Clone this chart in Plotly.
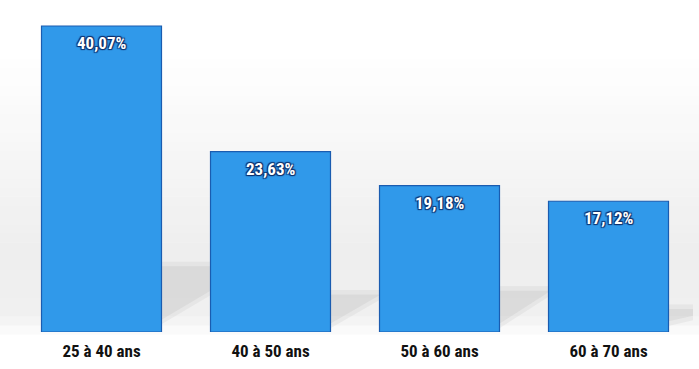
import plotly.graph_objects as go

categories = ["25 à 40 ans", "40 à 50 ans", "50 à 60 ans", "60 à 70 ans"]
values = [40.07, 23.63, 19.18, 17.12]
value_labels = ["40,07%", "23,63%", "19,18%", "17,12%"]

FONT = "Liberation Sans Narrow, Arial Narrow, Roboto Condensed, Liberation Sans, sans-serif"
BAR_W = 0.71

fig = go.Figure()

# soft grey background gradient (decoration)
def grey_at(p):
    if p > 0.85:
        g = 255
    elif p > 0.25:
        g = 255 - (0.85 - p) / 0.60 * 17
    elif p > 0.05:
        g = 238 + (0.25 - p) / 0.20 * 2
    else:
        g = 240 + (0.05 - p) / 0.05 * 12
    return int(round(g))

n = 40
for i in range(n):
    y0 = -0.12 + i * (1.12 / n)
    y1 = y0 + 1.12 / n + 0.002
    g = grey_at((y0 + y1) / 2)
    fig.add_shape(type="rect", xref="paper", yref="paper", x0=-0.03, x1=1.01,
                  y0=y0, y1=y1, fillcolor=f"rgb({g},{g},{g})", line=dict(width=0), layer="below")

# cast shadows to the right of each bar (decoration), two layers for softness
half = BAR_W / 2
shadow_specs = [
    (0, 9.2, 1.0, 4.8, 1 - BAR_W),
    (1, 5.5, 0.5, 4.2, 1 - BAR_W),
    (2, 6.0, 0.5, 4.6, 1 - BAR_W),
    (3, 3.6, 0.8, 1.8, 0.2),
]
for i, ytop, yb0, yb1, reach in shadow_specs:
    x0 = i + half
    for k, op in ((0.0, 0.08), (0.6, 0.09)):
        x1 = x0 + reach
        yt = ytop - k
        path = f"M {x0},{yt} L {x1},{yt} L {x1},{yb1 + k} L {x0},{yb0 + k} Z"
        fig.add_shape(type="path", xref="x", yref="y", path=path,
                      fillcolor=f"rgba(110,110,110,{op})", line=dict(width=0), layer="below")

fig.add_trace(go.Bar(
    x=[0, 1, 2, 3], y=values,
    marker=dict(color="#3099ea", line=dict(color="#1a5cb0", width=1.2)),
    width=BAR_W,
    hoverinfo="skip",
))

for i, (v, t) in enumerate(zip(values, value_labels)):
    fig.add_annotation(
        x=i, y=v, text=t, showarrow=False, yanchor="top", yshift=-5,
        font=dict(family=FONT, size=17, color="white", weight="bold",
                  shadow="1px 1px 1px #0d2f6b, -1px -1px 1px #0d2f6b, 1px -1px 1px #0d2f6b, -1px 1px 1px #0d2f6b"),
    )

fig.update_layout(
    width=699, height=369,
    margin=dict(l=17, r=6, t=4, b=37),
    paper_bgcolor="white", plot_bgcolor="rgba(0,0,0,0)",
    showlegend=False,
    xaxis=dict(showgrid=False, zeroline=False, showline=False, ticks="",
               range=[-0.5, 3.5], tickmode="array", tickvals=[0, 1, 2, 3], ticktext=categories,
               ticklabelstandoff=7,
               tickfont=dict(family=FONT, size=17, color="#111111", weight="bold")),
    yaxis=dict(range=[0, 42.95], visible=False, showgrid=False, zeroline=False),
)

fig.write_html("out.html")
